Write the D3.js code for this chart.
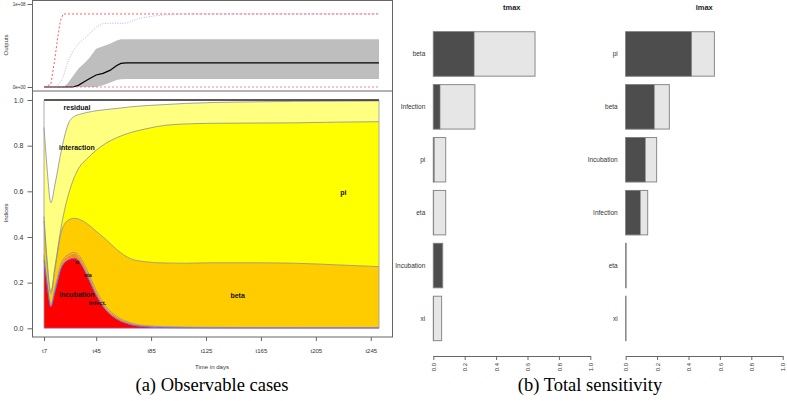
<!DOCTYPE html>
<html lang="en">
<head>
<meta charset="UTF-8">
<title>Sensitivity indices</title>
<script src="https://d3js.org/d3.v7.min.js"></script>
<style>
body { margin: 0; background: #fff; }
text { font-family: "Liberation Sans", Arial, sans-serif; }
</style>
</head>
<body>
<svg width="787" height="401"></svg>
<script>
// ---- top panel: outputs (units of 1e8)
var outDays  = [7, 12, 15, 17, 19, 21, 24, 28, 32, 36, 40, 45, 50, 55, 60, 63, 67, 72, 77, 89, 101, 110, 251];
var outMax   = [0, 0.03, 0.35, 0.6, 0.8, 0.88, 0.88, 0.88, 0.88, 0.88, 0.88, 0.88, 0.88, 0.88, 0.88, 0.88, 0.88, 0.88, 0.88, 0.88, 0.88, 0.88, 0.88];
var outBlue  = [0, 0, 0, 0.02, 0.06, 0.12, 0.29, 0.43, 0.52, 0.58, 0.64, 0.72, 0.765, 0.768, 0.768, 0.768, 0.77, 0.8, 0.83, 0.86, 0.876, 0.88, 0.88];
var outHi    = [0, 0, 0, 0, 0, 0, 0.04, 0.13, 0.22, 0.28, 0.35, 0.46, 0.49, 0.52, 0.56, 0.575, 0.575, 0.575, 0.575, 0.575, 0.575, 0.575, 0.575];
var outLo    = [0, 0, 0, 0, 0, 0, 0, 0, 0, 0, 0, 0, 0.02, 0.05, 0.085, 0.093, 0.095, 0.095, 0.095, 0.095, 0.095, 0.095, 0.095];
var outMean  = [0, 0, 0, 0, 0, 0, 0, 0, 0.02, 0.06, 0.1, 0.145, 0.165, 0.2, 0.26, 0.285, 0.29, 0.29, 0.29, 0.29, 0.29, 0.29, 0.29];
var outMin   = [0, 0, 0, 0, 0, 0, 0, 0, 0, 0, 0, 0, 0, 0, 0, 0, 0, 0, 0, 0, 0, 0, 0];

// ---- lower panel: indices over time
var days        = [7, 9, 12, 15, 20, 25, 29, 33, 38, 45, 52, 60, 70, 80, 95, 110, 130, 160, 190, 220, 251];
var incubation  = [0.30, 0.20, 0.095, 0.16, 0.27, 0.30, 0.307, 0.29, 0.235, 0.145, 0.08, 0.04, 0.016, 0.007, 0.003, 0.002, 0.001, 0.001, 0.001, 0.001, 0.001];
var infection   = [0.004, 0.003, 0.002, 0.003, 0.004, 0.004, 0.004, 0.004, 0.004, 0.004, 0.003, 0.002, 0.002, 0.001, 0.001, 0.001, 0.001, 0.001, 0.001, 0.001, 0.001];
var eta         = [0.010, 0.008, 0.006, 0.009, 0.012, 0.014, 0.015, 0.015, 0.014, 0.012, 0.009, 0.007, 0.004, 0.003, 0.002, 0.001, 0.001, 0.001, 0.001, 0.001, 0.001];
var xi          = [0.006, 0.004, 0.003, 0.004, 0.005, 0.006, 0.006, 0.006, 0.006, 0.005, 0.004, 0.003, 0.002, 0.001, 0.001, 0.001, 0.001, 0, 0, 0, 0];
var beta        = [0.15, 0.085, 0.044, 0.084, 0.139, 0.151, 0.150, 0.162, 0.201, 0.259, 0.294, 0.293, 0.281, 0.280, 0.279, 0.280, 0.283, 0.284, 0.282, 0.275, 0.267];
var pi          = [0.02, 0.02, 0.01, 0.01, 0.03, 0.115, 0.178, 0.231, 0.28, 0.355, 0.42, 0.49, 0.552, 0.58, 0.603, 0.61, 0.611, 0.612, 0.615, 0.625, 0.635];
var interaction = [0.39, 0.40, 0.39, 0.36, 0.33, 0.31, 0.268, 0.229, 0.205, 0.173, 0.148, 0.128, 0.113, 0.103, 0.091, 0.09, 0.091, 0.093, 0.094, 0.092, 0.091];
var residual    = [0.12, 0.28, 0.45, 0.37, 0.21, 0.10, 0.072, 0.063, 0.055, 0.047, 0.042, 0.037, 0.03, 0.025, 0.02, 0.015, 0.011, 0.008, 0.006, 0.005, 0.004];
var timeTicks   = [7, 45, 85, 125, 165, 205, 245];

// ---- right panel: total sensitivity bars
var tmaxCats  = ["beta", "Infection", "pi", "eta", "Incubation", "xi"];
var tmaxFirst = [0.26, 0.043, 0.006, 0.003, 0.058, 0.002];
var tmaxTotal = [0.648, 0.265, 0.079, 0.079, 0.06, 0.053];
var lmaxCats  = ["pi", "beta", "Incubation", "Infection", "eta", "xi"];
var lmaxFirst = [0.42, 0.182, 0.125, 0.093, 0.001, 0.001];
var lmaxTotal = [0.565, 0.278, 0.197, 0.14, 0.003, 0.002];

var svg = d3.select("svg");
var axisCol = "#666";

var x = d3.scaleLinear().domain([7, 251]).range([44, 379]);
var yOut = d3.scaleLinear().domain([0, 1]).range([87, 4]);
var yIdx = d3.scaleLinear().domain([0, 1]).range([328.3, 100]);

// ---- top panel
var band = d3.area().x((d, i) => x(outDays[i])).y0((d, i) => yOut(outLo[i])).y1((d, i) => yOut(outHi[i]));
svg.append("path").attr("d", band(outDays)).attr("fill", "#BEBEBE");

function outLine(vals) {
    return d3.line().x((d, i) => x(outDays[i])).y((d, i) => yOut(vals[i]))(vals);
}
svg.append("path").attr("d", outLine(outMean)).attr("fill", "none").attr("stroke", "#000").attr("stroke-width", 1.2);
svg.append("path").attr("d", outLine(outMax)).attr("fill", "none").attr("stroke", "#ff3030")
    .attr("stroke-width", 0.8).attr("stroke-dasharray", "2,2");
svg.append("path").attr("d", outLine(outBlue)).attr("fill", "none").attr("stroke", "#a0a0ff")
    .attr("stroke-width", 0.8).attr("stroke-dasharray", "1,1.5");
svg.append("path").attr("d", outLine(outMin)).attr("fill", "none").attr("stroke", "#ff6080")
    .attr("stroke-width", 0.8).attr("stroke-dasharray", "2,2");

var yOutAxis = svg.append("g").attr("transform", "translate(32.5,0)")
    .call(d3.axisLeft(yOut).tickValues([0, 1]).tickSize(5).tickPadding(2)
        .tickFormat(d => d === 0 ? "0e+00" : "1e+08"));
yOutAxis.select(".domain").remove();
yOutAxis.selectAll("line").attr("stroke", axisCol);
yOutAxis.selectAll("text").style("font-size", "4.5px").attr("fill", "#333");

svg.append("text").attr("transform", "translate(8,45) rotate(-90)")
    .attr("text-anchor", "middle").style("font-size", "6px").attr("fill", "#333").text("Outputs");

// ---- lower panel: stacked indices
var keys = ["Incubation", "Infection", "eta", "xi", "beta", "pi", "interaction", "residual"];
var cols = {Incubation: "#FF0000", Infection: "#FF4000", eta: "#FF8C00", xi: "#FFA800",
            beta: "#FFCC00", pi: "#FFFF00", interaction: "#FFFF80", residual: "#FFFFFF"};
var edge = {xi: "#8c8c8c", beta: "#8c8c8c", pi: "#8c8c8c", interaction: "#8c8c8c"};
var series = {Incubation: incubation, Infection: infection, eta: eta, xi: xi,
              beta: beta, pi: pi, interaction: interaction, residual: residual};
var rows = days.map(function(d, i) {
    var r = {day: d};
    keys.forEach(k => r[k] = series[k][i]);
    return r;
});
var stacked = d3.stack().keys(keys)(rows);

var area = d3.area().curve(d3.curveMonotoneX)
    .x(d => x(d.data.day)).y0(d => yIdx(d[0])).y1(d => yIdx(d[1]));
var topLine = d3.line().curve(d3.curveMonotoneX).x(d => x(d.data.day)).y(d => yIdx(d[1]));

svg.append("g").selectAll("path").data(stacked).enter().append("path")
    .attr("d", area).attr("fill", d => cols[d.key]);

svg.append("g").selectAll("path").data(stacked.filter(s => edge[s.key])).enter().append("path")
    .attr("d", topLine).attr("fill", "none").attr("stroke", d => edge[d.key]).attr("stroke-width", 0.8);

// blue border on top of Incubation
svg.append("path").attr("d", topLine(stacked[0])).attr("fill", "none")
    .attr("stroke", "#5a5aff").attr("stroke-width", 0.9);
// dark top edge
svg.append("path").attr("d", topLine(stacked[stacked.length - 1])).attr("fill", "none")
    .attr("stroke", "#222").attr("stroke-width", 1.4);
// side edges
svg.append("line").attr("x1", x(7)).attr("x2", x(7)).attr("y1", yIdx(0)).attr("y2", yIdx(1))
    .attr("stroke", "#9a9a9a").attr("stroke-width", 0.8);
svg.append("line").attr("x1", x(251)).attr("x2", x(251)).attr("y1", yIdx(0)).attr("y2", yIdx(1))
    .attr("stroke", "#9a9a9a").attr("stroke-width", 0.8);
svg.append("line").attr("x1", x(7)).attr("x2", x(251)).attr("y1", yIdx(0)).attr("y2", yIdx(0))
    .attr("stroke", "#9a9aff").attr("stroke-width", 0.8);

var labels = [
    {t: "residual", d: 31, v: 0.965, s: 7},
    {t: "interaction", d: 31, v: 0.79, s: 7},
    {t: "pi", d: 225, v: 0.593, s: 7},
    {t: "beta", d: 148, v: 0.143, s: 7},
    {t: "xi", d: 31, v: 0.29, s: 5.5},
    {t: "eta", d: 39, v: 0.232, s: 5.5},
    {t: "Incubation", d: 31, v: 0.15, s: 7},
    {t: "Infect.", d: 46, v: 0.112, s: 6}
];
svg.append("g").selectAll("text").data(labels).enter().append("text")
    .attr("x", d => x(d.d)).attr("y", d => yIdx(d.v)).attr("dy", "0.35em")
    .attr("text-anchor", "middle").style("font-weight", "bold")
    .style("font-size", d => d.s + "px").attr("fill", "#111").text(d => d.t);

// frames
svg.append("rect").attr("x", 32.5).attr("y", 0.5).attr("width", 360).attr("height", 336.5)
    .attr("fill", "none").attr("stroke", axisCol);
svg.append("line").attr("x1", 32.5).attr("x2", 392.5).attr("y1", 91).attr("y2", 91)
    .attr("stroke", axisCol);

var yIdxAxis = svg.append("g").attr("transform", "translate(32.5,0)")
    .call(d3.axisLeft(yIdx).tickValues([0, 0.2, 0.4, 0.6, 0.8, 1]).tickFormat(d3.format(".1f"))
        .tickSize(5).tickPadding(4));
yIdxAxis.select(".domain").remove();
yIdxAxis.selectAll("line").attr("stroke", axisCol);
yIdxAxis.selectAll("text").style("font-size", "7px").attr("fill", "#333");

var xAxis = svg.append("g").attr("transform", "translate(0,337)")
    .call(d3.axisBottom(x).tickValues(timeTicks).tickFormat(d => "t" + d).tickSize(4).tickPadding(8));
xAxis.select(".domain").remove();
xAxis.selectAll("line").attr("stroke", axisCol);
xAxis.selectAll("text").style("font-size", "6px").attr("fill", "#333");

svg.append("text").attr("transform", "translate(8,213) rotate(-90)")
    .attr("text-anchor", "middle").style("font-size", "6px").attr("fill", "#333").text("Indices");
svg.append("text").attr("x", 212).attr("y", 369).attr("text-anchor", "middle")
    .style("font-size", "6px").attr("fill", "#333").text("Time in days");

// ---- right panel: bar charts
var yBar = d3.scaleBand().domain(d3.range(6)).range([27.5, 344.9]).paddingInner(0.16).paddingOuter(0.08);

function barChart(title, cats, first, total, x0) {
    var xb = d3.scaleLinear().domain([0, 1]).range([x0, x0 + 157]);
    var g = svg.append("g");
    g.append("text").attr("x", xb(0.5)).attr("y", 10).attr("text-anchor", "middle")
        .style("font-size", "7.5px").style("font-weight", "bold").attr("fill", "#222").text(title);
    g.selectAll("rect.tot").data(total).enter().append("rect").attr("class", "tot")
        .attr("x", xb(0)).attr("y", (d, i) => yBar(i)).attr("height", yBar.bandwidth())
        .attr("width", d => xb(d) - xb(0)).attr("fill", "#E6E6E6").attr("stroke", "#8a8a8a").attr("stroke-width", 1);
    g.selectAll("rect.first").data(first).enter().append("rect").attr("class", "first")
        .attr("x", xb(0)).attr("y", (d, i) => yBar(i)).attr("height", yBar.bandwidth())
        .attr("width", d => xb(d) - xb(0)).attr("fill", "#4D4D4D").attr("stroke", "#8a8a8a").attr("stroke-width", 0.6);
    g.selectAll("text.cat").data(cats).enter().append("text").attr("class", "cat")
        .attr("x", xb(0) - 8).attr("y", (d, i) => yBar(i) + yBar.bandwidth() / 2).attr("dy", "0.35em")
        .attr("text-anchor", "end").style("font-size", "6.5px").attr("fill", "#333").text(d => d);
    var ax = g.append("g").attr("transform", "translate(0,356)")
        .call(d3.axisBottom(xb).tickValues([0, 0.2, 0.4, 0.6, 0.8, 1]).tickFormat(d3.format(".1f"))
            .tickSize(4).tickSizeOuter(0));
    ax.selectAll("line, path").attr("stroke", axisCol);
    ax.selectAll("text").attr("y", 0).attr("x", -7).attr("dy", "0.35em")
        .attr("transform", "rotate(-90)").style("text-anchor", "end")
        .style("font-size", "6px").attr("fill", "#333");
}
barChart("tmax", tmaxCats, tmaxFirst, tmaxTotal, 433.3);
barChart("lmax", lmaxCats, lmaxFirst, lmaxTotal, 625.7);

// ---- captions
svg.append("text").attr("x", 212).attr("y", 391).attr("text-anchor", "middle")
    .style("font-family", "'Liberation Serif', serif").style("font-size", "18.5px").text("(a) Observable cases");
svg.append("text").attr("x", 590).attr("y", 391).attr("text-anchor", "middle")
    .style("font-family", "'Liberation Serif', serif").style("font-size", "18.5px").text("(b) Total sensitivity");
</script>
</body>
</html>
